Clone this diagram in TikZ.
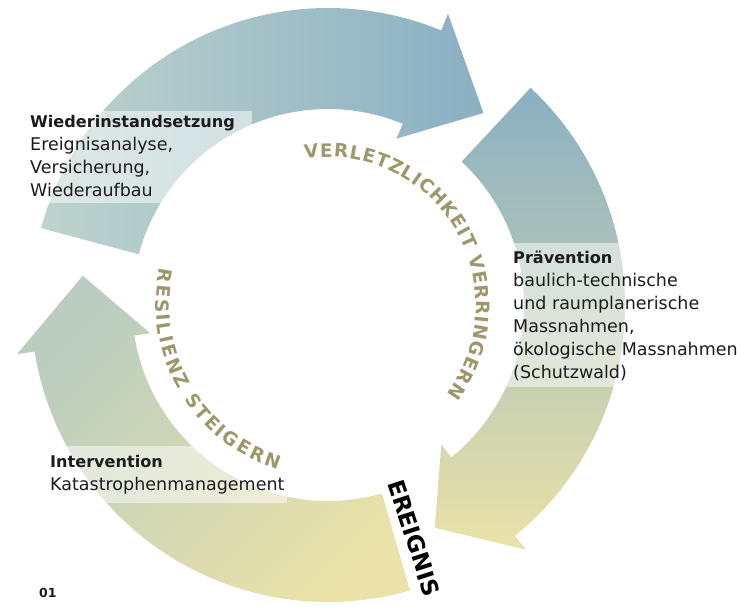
\documentclass[tikz,border=0pt]{standalone}
\usepackage{fontspec}
\setmainfont{DejaVu Sans}
\usetikzlibrary{decorations.text}
\definecolor{cgreen}{RGB}{190,211,205}
\definecolor{cblue}{RGB}{138,176,195}
\definecolor{cyellow}{RGB}{234,226,168}
\definecolor{cgreentwo}{RGB}{186,205,192}
\definecolor{olv}{RGB}{157,151,106}
\definecolor{ink}{RGB}{28,28,28}
\newcommand\Ro{297pt}
\newcommand\Ri{196pt}
\newcommand\Rbo{315pt}
\newcommand\Rbi{180pt}
\newcommand\Rm{247pt}
% tail angle, barb angle, tip angle, options
\newcommand\ringarrow[4]{%
  \path[#4] (#1:\Ro) arc[start angle=#1, end angle=#2, radius=\Ro]
    -- (#2:\Rbo) -- (#3:\Rm) -- (#2:\Rbi) -- (#2:\Ri)
    arc[start angle=#2, end angle=#1, radius=\Ri] -- cycle;}
\tikzset{
  labelbox/.style={fill=white, fill opacity=0.5},
  blocktext/.style={anchor=north west, inner sep=0pt, align=left, text=ink,
    font=\fontsize{17.5}{23}\selectfont},
  ringtext/.style={decorate, decoration={text along path, text align={fit to path},
    text={|\color{olv}\bfseries\fontsize{18.5}{19}\selectfont|#1}}}
}
\begin{document}
\begin{tikzpicture}[x=1pt,y=1pt]
\useasboundingbox (0,0) rectangle (741,606);
\begin{scope}[shift={(328,301)}]
  % arrows
  \ringarrow{165}{67.6}{51}{left color=cgreen, right color=cblue}
  \ringarrow{47}{-51}{-64.4}{top color=cblue, bottom color=cyellow}
  \ringarrow{286}{189}{173.2}{top color=cgreentwo, bottom color=cyellow, shading angle=45}
\end{scope}
% translucent label boxes
\fill[labelbox] (25,403) rectangle (252,495);
\fill[labelbox] (505,219) rectangle (741,363);
\fill[labelbox] (40,103) rectangle (287,160);
% curved texts
\begin{scope}[shift={(328,301)}]
  \path[ringtext={VERLETZLICHKEIT VERRINGERN}]
    (99:148pt) arc[start angle=99, end angle=-37, radius=148pt];
  \path[ringtext={RESILIENZ STEIGERN}]
    (167.5:172pt) arc[start angle=167.5, end angle=253, radius=172pt];
\end{scope}
% labels
\node[blocktext] (wieder) at (30,491)
  {{\bfseries\fontsize{16.1}{23}\selectfont Wiederinstandsetzung}\\Ereignisanalyse,\\Versicherung,\\Wiederaufbau};
\node[blocktext] (praev) at (513,355)
  {{\bfseries\fontsize{16.1}{23}\selectfont Prävention}\\baulich-technische\\und raumplanerische\\Massnahmen,\\ökologische Massnahmen\\(Schutzwald)};
\node[blocktext] (interv) at (50,151)
  {{\bfseries\fontsize{16.1}{23}\selectfont Intervention}\\Katastrophenmanagement};
\node[rotate=-72, inner sep=0pt, text=black, font=\bfseries\fontsize{23}{23}\selectfont] (ereignis) at (414,68) {EREIGNIS};
\node[anchor=base west, inner sep=0pt, text=ink, font=\bfseries\fontsize{12.5}{14}\selectfont] (nr) at (39,9) {01};
\end{tikzpicture}
\end{document}
